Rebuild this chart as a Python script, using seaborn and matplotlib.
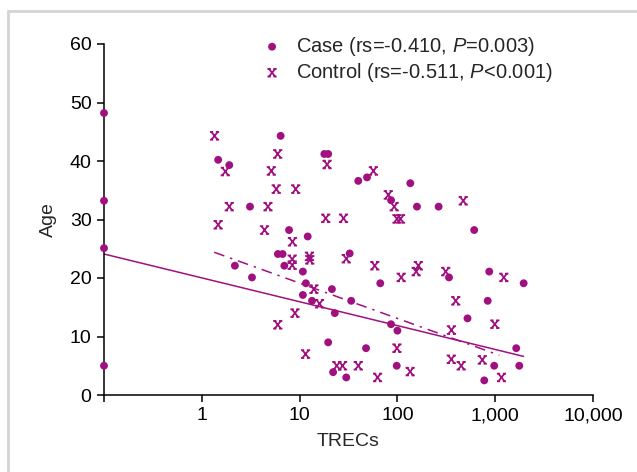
import matplotlib
matplotlib.use("Agg")
import matplotlib.pyplot as plt
import seaborn as sns
import pandas as pd
from matplotlib.path import Path
from matplotlib.lines import Line2D

# values
case_trecs = [0.1, 0.1, 0.1, 0.1, 1.47, 1.91, 6.4, 3.11, 7.8, 12.1,
              6.0, 6.7, 17.9, 19.6, 39.8, 48.9, 135.5, 86.1, 158.5, 264,
              610, 32.5, 2.18, 3.26, 6.98, 10.8, 11.6, 10.8, 13.4, 21.4,
              22.9, 19.6, 22.0, 30.0, 33.7, 66.8, 86.1, 100, 47.8, 98.4,
              337, 869, 1954, 838, 521, 1641, 977, 1763, 773]
case_age = [48.2, 33.2, 25.1, 5.0, 40.2, 39.3, 44.3, 32.2, 28.2, 27.1,
            24.1, 24.1, 41.2, 41.2, 36.6, 37.2, 36.2, 33.3, 32.2, 32.2,
            28.2, 24.2, 22.1, 20.1, 22.1, 21.1, 19.1, 17.1, 16.1, 18.1,
            14.0, 9.0, 3.9, 3.0, 16.1, 19.1, 12.1, 11.0, 8.0, 5.0,
            20.1, 21.1, 19.1, 16.1, 13.1, 8.0, 5.0, 5.0, 2.5]

control_trecs = [1.35, 5.97, 1.74, 5.14, 5.77, 9.12, 1.91, 4.75, 1.47, 4.38,
                 8.45, 12.6, 12.7, 8.4, 8.4, 14.0, 16.0, 8.97, 5.98, 11.5,
                 19.1, 56.8, 80.7, 92.7, 471, 18.5, 28.1, 99.1, 107.6, 30.0,
                 58.7, 109.4, 155.6, 163.7, 312, 1225, 395, 991, 357, 98.9,
                 356, 449, 738, 24.0, 27.5, 39.8, 62.7, 135, 1159]
control_age = [44.3, 41.2, 38.2, 38.3, 35.2, 35.2, 32.2, 32.2, 29.1, 28.2,
               26.2, 23.7, 23.1, 23.2, 22.2, 18.1, 15.6, 14.0, 12.0, 7.0,
               39.4, 38.3, 34.2, 32.2, 33.2, 30.2, 30.2, 30.1, 30.1, 23.3,
               22.1, 20.1, 21.1, 22.1, 21.1, 20.1, 16.1, 12.1, 11.1, 8.0,
               6.1, 5.0, 6.0, 5.0, 5.0, 5.0, 3.0, 4.0, 3.0]

# fitted lines (end points)
case_fit_trecs = [0.1, 1950]
case_fit_age = [24.1, 6.6]
control_fit_trecs = [1.34, 1100]
control_fit_age = [24.4, 6.8]

x_ticks = [0.1, 1, 10, 100, 1000, 10000]
x_tick_labels = ["", "1", "10", "100", "1,000", "10,000"]
y_ticks = [0, 10, 20, 30, 40, 50, 60]

case_label = "Case (rs=-0.410, $\\mathit{P}$=0.003)"
control_label = "Control (rs=-0.511, $\\mathit{P}$<0.001)"

sns.set_theme(style="ticks")
plt.rcParams["font.family"] = ["Liberation Sans", "DejaVu Sans"]
plt.rcParams["mathtext.fontset"] = "custom"
plt.rcParams["mathtext.rm"] = "Liberation Sans"
plt.rcParams["mathtext.it"] = "Liberation Sans:italic"

purple = "#a0107f"
fs = 14

# control marker: a serifed X
cross_mark = Path(
    [(-0.8, -1), (0.8, 1), (-0.8, 1), (0.8, -1),
     (-1.2, 1), (-0.35, 1), (0.35, 1), (1.2, 1),
     (-1.2, -1), (-0.35, -1), (0.35, -1), (1.2, -1)],
    [Path.MOVETO, Path.LINETO] * 6,
)

fig = plt.figure(figsize=(6.37, 4.72), dpi=100)
ax = fig.add_axes([104 / 637, 1 - 395 / 472, (593 - 104) / 637, (395 - 44) / 472])
ax.set_xscale("log")

case_df = pd.DataFrame({"TRECs": case_trecs, "Age": case_age})
control_df = pd.DataFrame({"TRECs": control_trecs, "Age": control_age})

sns.scatterplot(data=case_df, x="TRECs", y="Age", ax=ax, color=purple,
                marker="o", s=32, edgecolor="none", clip_on=False,
                label=case_label, zorder=3)
sns.scatterplot(data=control_df, x="TRECs", y="Age", ax=ax, color=purple,
                marker=cross_mark, s=44, facecolor="none", edgecolor=purple,
                linewidth=1.3, clip_on=False, label=control_label, zorder=3)

sns.lineplot(x=case_fit_trecs, y=case_fit_age, ax=ax, color=purple,
             linewidth=1.1, legend=False)
sns.lineplot(x=control_fit_trecs, y=control_fit_age, ax=ax, color=purple,
             linewidth=1.1, linestyle=(0, (7, 4, 1.5, 4)), legend=False)

ax.set_xlim(0.1, 10000)
ax.set_ylim(0, 60)
ax.set_xticks(x_ticks)
ax.set_xticklabels(x_tick_labels)
ax.xaxis.set_minor_locator(matplotlib.ticker.NullLocator())
ax.set_yticks(y_ticks)
ax.tick_params(direction="out", length=5, width=1.1, colors="black",
               labelsize=fs, pad=4)
for side in ["left", "bottom"]:
    ax.spines[side].set_linewidth(1.1)
    ax.spines[side].set_color("black")
sns.despine(ax=ax)

ax.set_xlabel("TRECs", fontsize=fs, labelpad=6)
ax.set_ylabel("Age", fontsize=fs, labelpad=9)

ax.legend(frameon=False, loc="upper left", fontsize=14.5,
          bbox_to_anchor=(262 / 637, 1 - 35 / 472), bbox_transform=fig.transFigure,
          handlelength=1.0, handletextpad=0.7, borderaxespad=0, borderpad=0,
          labelspacing=0.15)

# light frame left and top of the figure
fig.add_artist(Line2D([8 / 637, 8 / 637], [0, 1 - 11 / 472],
                      transform=fig.transFigure, color="#d4d4d4", lw=2))
fig.add_artist(Line2D([8 / 637, 1], [1 - 11 / 472, 1 - 11 / 472],
                      transform=fig.transFigure, color="#d4d4d4", lw=2))

fig.savefig("out.png", dpi=100)
